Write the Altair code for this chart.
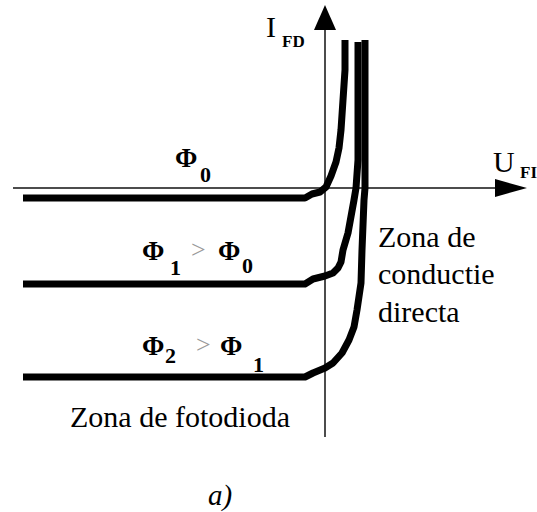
import altair as alt
import pandas as pd

# Photodiode I-U characteristics for three luminous fluxes (Phi0 < Phi1 < Phi2).
# u: forward voltage U_FI, i: current I_FD (arbitrary schematic units, origin at axes crossing)
phi0_u = [-302, -20, -13, -5, 1, 6, 11, 14, 16, 18, 20, 20]
phi0_i = [-10, -10, -6, -4, 1, 12, 26, 40, 58, 88, 118, 148]

phi1_u = [-302, -20, -12, 0, 8, 13, 16, 18, 23, 29, 31, 33, 33, 33]
phi1_i = [-96, -96, -91, -88, -85, -80, -74, -62, -45, -12, 0, 28, 61, 146]

phi2_u = [-302, -20, -12, 0, 8, 17, 24, 29, 32, 36, 37, 39, 40, 40, 40]
phi2_i = [-189, -189, -185, -180, -175, -165, -152, -139, -122, -95, -62, -12, 0, 38, 148]

series_names = ["Φ0", "Φ1", "Φ2"]

# Axis extents
u_axis_from, u_axis_to = -312, 175
i_axis_from, i_axis_to = -249, 163

rows = []
for name, us, is_ in zip(series_names, [phi0_u, phi1_u, phi2_u], [phi0_i, phi1_i, phi2_i]):
    for k, (u, i) in enumerate(zip(us, is_)):
        rows.append({"serie": name, "k": k, "u": u, "i": i})
curves = pd.DataFrame(rows)

xs = alt.Scale(domain=[-325, 212], nice=False, zero=False)
ys = alt.Scale(domain=[-324, 188], nice=False, zero=False)

SERIF = "Liberation Serif, Times New Roman, DejaVu Serif, serif"


def X(field="u"):
    return alt.X(f"{field}:Q", scale=xs, axis=None)


def Y(field="i"):
    return alt.Y(f"{field}:Q", scale=ys, axis=None)


axes_df = pd.DataFrame({
    "u": [u_axis_from, 0], "u2": [u_axis_to, 0],
    "i": [0, i_axis_from], "i2": [0, i_axis_to],
})
axes = alt.Chart(axes_df).mark_rule(color="#111", strokeWidth=1.5).encode(
    x=X(), x2="u2:Q", y=Y(), y2="i2:Q"
)

# Arrow heads at the ends of the axes
up_arrow = alt.Chart(pd.DataFrame({"u": [0], "i": [170.5]})).mark_point(
    shape="M0,-1L0.88,1L-0.88,1Z", size=625, filled=True, color="black", opacity=1
).encode(x=X(), y=Y())
right_arrow = alt.Chart(pd.DataFrame({"u": [186], "i": [0]})).mark_point(
    shape="M1,0L-1,-0.56L-1,0.56Z", size=1024, filled=True, color="black", opacity=1
).encode(x=X(), y=Y())

lines = alt.Chart(curves).mark_line(
    color="black", strokeWidth=7, strokeJoin="round", strokeCap="butt"
).encode(x=X(), y=Y(), detail="serie:N", order="k:Q")


def text_layer(items, size, weight="normal", style="normal", color="black",
               align="left"):
    df = pd.DataFrame(items, columns=["u", "i", "t"])
    return alt.Chart(df).mark_text(
        font=SERIF, fontSize=size, fontWeight=weight, fontStyle=style,
        color=color, align=align, baseline="alphabetic"
    ).encode(x=X(), y=Y(), text="t:N")


phi_big = text_layer([
    (-150, 21, "Φ"),
    (-183, -72, "Φ"), (-107, -72, "Φ"),
    (-183, -167, "Φ"), (-105, -167, "Φ"),
], 27, weight="bold")

phi_sub = text_layer([
    (-125, 6, "0"),
    (-155, -87, "1"), (-83, -85, "0"),
    (-160, -175, "2"), (-72, -184, "1"),
], 22, weight="bold")

gt = text_layer([(-134, -70, ">"), (-129, -165, ">")], 26, color="#999")

axis_main = text_layer([(-59, 151, "I"), (168, 16, "U")], 30)
axis_sub = text_layer([(-43, 141, "FD"), (195, 10, "FI")], 17, weight="bold")

zones = text_layer([
    (53, -59, "Zona de"), (53, -96, "conductie"), (53, -134, "directa"),
], 30)
zone_photo = text_layer([(-145, -239, "Zona de fotodioda")], 30, align="center")
caption = text_layer([(-117, -317, "a)")], 29, style="italic")

chart = alt.layer(
    axes, up_arrow, right_arrow, lines,
    phi_big, phi_sub, gt, axis_main, axis_sub, zones, zone_photo, caption
).properties(
    width=537, height=512, padding=0, autosize=alt.AutoSizeParams(type="none"),
    background="white"
).configure_view(stroke=None)

chart.save("out.html", embed_options={"renderer": "svg", "actions": False})
